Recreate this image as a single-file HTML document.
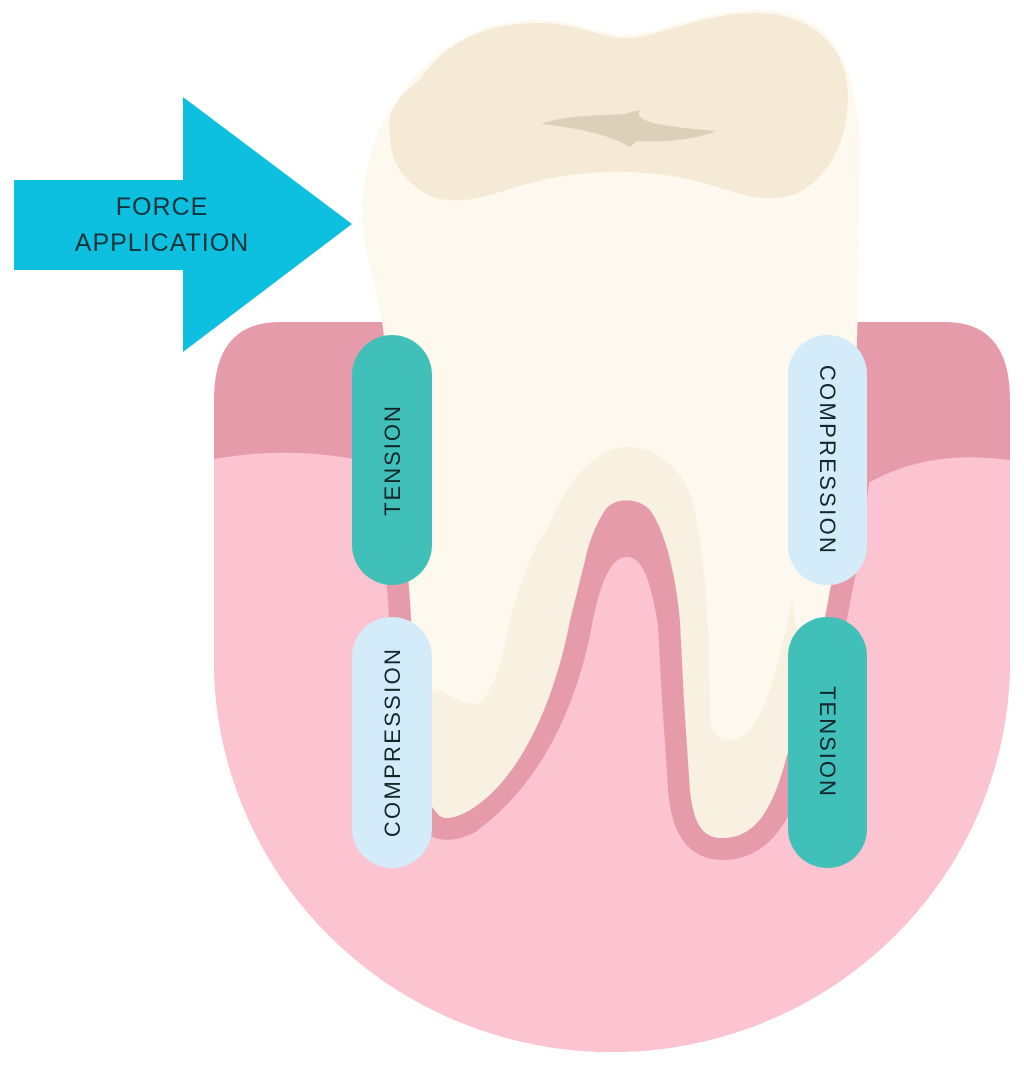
<!DOCTYPE html>
<html><head><meta charset="utf-8"><style>
html,body{margin:0;padding:0;background:#fff;}
svg{display:block;}
text{font-family:"Liberation Sans",sans-serif;}
</style></head><body>
<svg width="1024" height="1067" viewBox="0 0 1024 1067" xmlns="http://www.w3.org/2000/svg">
<defs>
<clipPath id="below"><rect x="0" y="330" width="1024" height="800"/></clipPath>
<clipPath id="gumclip"><path d="M280,322 H945 Q1010,322 1010,400 V660 A398 392 0 0 1 214 660 V400 Q214,322 280,322 Z"/></clipPath>
<path id="tp" d="M395,105 C420,60 470,20 537,20 C580,20 600,35 625,35 C660,35 700,10 760,10 C830,10 855,60 860,140 L858,300 C856,420 845,520 830,590 C820,650 800,720 787,755 C775,800 760,838 722,838 C698,838 693,815 690,790 L684,700 L680,620 C676,575 665,530 650,510 C640,498 615,496 605,510 C595,525 588,545 585,560 L570,620 C555,700 520,780 470,810 C452,820 442,820 437,813 C425,800 420,780 418,740 L410,600 C402,500 392,400 382,320 C370,270 360,230 363,200 C365,160 378,125 395,105 Z"/>
<clipPath id="toothclip"><use href="#tp"/></clipPath>
</defs>
<path d="M280,322 H945 Q1010,322 1010,400 V660 A398 392 0 0 1 214 660 V400 Q214,322 280,322 Z" fill="#e69bab"/>
<g clip-path="url(#gumclip)">
<path d="M200,462 Q300,440 400,470 L400,1100 L200,1100 Z" fill="#fcc3d1"/>
<path d="M820,520 Q900,440 1020,462 L1020,1100 L820,1100 Z" fill="#fcc3d1"/>
<rect x="380" y="470" width="460" height="640" fill="#fcc3d1"/>
</g>
<g clip-path="url(#below)">
<use href="#tp" fill="#e69bab" stroke="#e69bab" stroke-width="44" stroke-linejoin="round"/>
</g>
<path d="M560,720 L600,495 L660,495 L690,720 Z" fill="#e69bab"/>
<use href="#tp" fill="#fdf9ee"/>
<g clip-path="url(#toothclip)">
<path d="M400,900 L400,700 L440,690 C455,700 470,706 480,703 C498,685 505,645 510,620 C522,575 535,545 547,530 C562,490 592,447 627,447 C665,447 686,478 693,503 C705,560 710,620 710,720 C712,735 722,742 733,740 C755,735 772,703 792,600 L800,650 L800,900 Z" fill="#f8f0e0"/>
</g>
<path d="M592,625 C600,585 610,557 627,557 C645,557 652,590 658,625 L662,700 L668,790 C670,830 680,850 700,860 L700,900 L478,900 L478,830 C545,780 578,700 592,625 Z" fill="#fcc3d1"/>
<path d="M390,135 C385,110 400,95 420,80 C445,40 490,23 537,23 C580,23 600,38 625,38 C660,38 700,13 755,13 C815,13 848,50 848,95 C848,140 830,175 800,192 C770,205 745,195 720,188 C680,175 650,172 615,172 C570,172 530,182 500,192 C470,202 440,205 420,190 C398,175 390,155 390,135 Z" fill="#f4ead6"/>
<path d="M541,124 C570,114 600,116 625,114 C632,112 638,110 640,110 C636,118 640,125 716,131 C690,142 655,142 637,141 L630,147 C612,136 580,128 541,124 Z" fill="#ddd0b8"/>
<path d="M14,180 H183 V97 L352,224 L183,352 V270 H14 Z" fill="#0ec0e0"/>
<text x="162" y="215" font-size="25" text-anchor="middle" fill="#13323a" letter-spacing="1">FORCE</text>
<text x="162" y="251" font-size="25" text-anchor="middle" fill="#13323a" letter-spacing="1">APPLICATION</text>
<rect x="352" y="335" width="80" height="250" rx="40" fill="#40c0b8"/>
<rect x="352" y="617" width="80" height="251" rx="40" fill="#d4ecf9"/>
<rect x="788" y="335" width="79" height="250" rx="39" fill="#d4ecf9"/>
<rect x="788" y="617" width="79" height="251" rx="39" fill="#40c0b8"/>
<text transform="translate(400,460) rotate(-90)" font-size="22" text-anchor="middle" fill="#13262a" letter-spacing="2">TENSION</text>
<text transform="translate(400,742) rotate(-90)" font-size="22" text-anchor="middle" fill="#13262a" letter-spacing="2.3">COMPRESSION</text>
<text transform="translate(820,460) rotate(90)" font-size="22" text-anchor="middle" fill="#13262a" letter-spacing="2.3">COMPRESSION</text>
<text transform="translate(820,742) rotate(90)" font-size="22" text-anchor="middle" fill="#13262a" letter-spacing="2">TENSION</text>
</svg>
</body></html>
